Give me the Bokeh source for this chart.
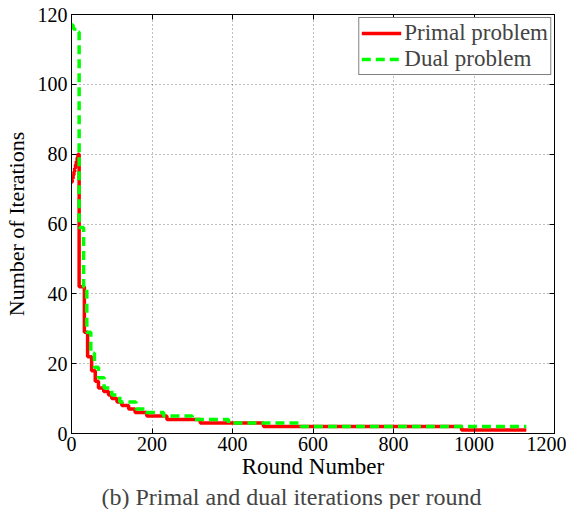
from bokeh.plotting import figure
from bokeh.models import LinearAxis, Range1d, FixedTicker, Legend, LegendItem
from bokeh.embed import file_html
from bokeh.resources import INLINE

# Primal problem: round at which the iteration count changes, and new value
primal_rounds = [0, 2, 4, 6, 8, 10, 12, 14, 16, 19, 32, 40, 50, 59, 67, 80, 92, 100, 113, 125, 142, 158, 187, 237, 320, 477, 969]
primal_iters = [72, 73, 74, 75, 76, 77, 78, 79, 80, 42, 29, 22, 18, 15, 13, 12, 11, 10, 9, 8, 7, 6, 5, 4, 3, 2, 1]

# Dual problem
dual_rounds = [0, 4, 8, 19, 30, 38, 48, 57, 67, 81, 100, 120, 160, 185, 229, 300, 390, 570]
dual_iters = [117, 116, 115, 59, 42, 29, 23, 19, 16, 13, 11, 9, 7, 6, 5, 4, 3, 2]

last_round = 1130

x_ticks = [0, 200, 400, 600, 800, 1000, 1200]
y_ticks = [0, 20, 40, 60, 80, 100, 120]

FONT = "'Liberation Serif', 'Times New Roman', 'DejaVu Serif', serif"


def step_vertices(rounds, vals, end):
    xs, ys = [], []
    for i, (r, v) in enumerate(zip(rounds, vals)):
        if i > 0:
            xs.append(r)
            ys.append(vals[i - 1])
        xs.append(r)
        ys.append(v)
    xs.append(end)
    ys.append(vals[-1])
    return xs, ys


p = figure(frame_width=483, frame_height=419,
           x_range=Range1d(0, 1200), y_range=Range1d(0, 120),
           output_backend="svg", toolbar_location=None,
           min_border_left=40, min_border_right=12, min_border_top=14,
           min_border_bottom=10)

p.background_fill_color = "white"
p.outline_line_color = "black"
p.outline_line_width = 1

px, py = step_vertices(primal_rounds, primal_iters, last_round)
dx, dy = step_vertices(dual_rounds, dual_iters, last_round)

r1 = p.line(px, py, line_color="#ff0000", line_width=3.5)
r2 = p.line(dx, dy, line_color="#00ff00", line_width=3.5, line_dash="9 5")

for ax in [p.xaxis[0], p.yaxis[0]]:
    ax.major_tick_in = 5
    ax.major_tick_out = 0
    ax.minor_tick_line_color = None
    ax.axis_line_color = "black"
    ax.major_tick_line_color = "black"
    ax.major_label_text_font = FONT
    ax.major_label_text_font_size = "20px"
    ax.major_label_text_color = "black"
    ax.axis_label_text_font = FONT
    ax.axis_label_text_font_size = "22px"
    ax.axis_label_text_font_style = "normal"
    ax.axis_label_text_color = "black"

p.xaxis[0].axis_label_text_font_size = "23px"
p.xaxis[0].ticker = FixedTicker(ticks=x_ticks)
p.yaxis[0].ticker = FixedTicker(ticks=y_ticks)
p.xaxis[0].axis_label = "Round Number"
p.yaxis[0].axis_label = "Number of Iterations"
p.xaxis[0].major_label_standoff = 3
p.yaxis[0].major_label_standoff = 4
p.xaxis[0].axis_label_standoff = 0
p.yaxis[0].axis_label_standoff = 6

# box ticks on top and right (no labels)
top = LinearAxis(ticker=FixedTicker(ticks=x_ticks), major_tick_in=5, major_tick_out=0,
                 minor_tick_line_color=None, major_label_standoff=0,
                 major_label_overrides={t: "" for t in x_ticks}, axis_line_color="black")
right = LinearAxis(ticker=FixedTicker(ticks=y_ticks), major_tick_in=5, major_tick_out=0,
                   minor_tick_line_color=None, major_label_standoff=0,
                   major_label_overrides={t: "" for t in y_ticks}, axis_line_color="black")
p.add_layout(top, "above")
p.add_layout(right, "right")

p.xgrid.ticker = FixedTicker(ticks=x_ticks)
p.ygrid.ticker = FixedTicker(ticks=y_ticks)
for g in [p.xgrid[0], p.ygrid[0]]:
    g.grid_line_color = "#444444"
    g.grid_line_dash = "1 3"
    g.grid_line_width = 1
    g.grid_line_alpha = 0.7

legend = Legend(items=[LegendItem(label="Primal problem", renderers=[r1]),
                       LegendItem(label="Dual problem", renderers=[r2])],
                location="top_right")
legend.label_text_font = FONT
legend.label_text_font_size = "23px"
legend.label_height = 20
legend.glyph_width = 40
legend.glyph_height = 20
legend.label_standoff = 3
legend.spacing = 0
legend.padding = 2
legend.margin = 3
legend.border_line_color = "black"
legend.border_line_width = 1.5
legend.background_fill_alpha = 1
p.add_layout(legend)

p.title.text = "(b) Primal and dual iterations per round"
p.title_location = "below"
p.title.align = "left"
p.title.text_font = FONT
p.title.text_font_size = "24px"
p.title.text_font_style = "normal"
p.title.offset = 30
p.title.standoff = 0

open("out.html", "w").write(file_html(p, INLINE))
